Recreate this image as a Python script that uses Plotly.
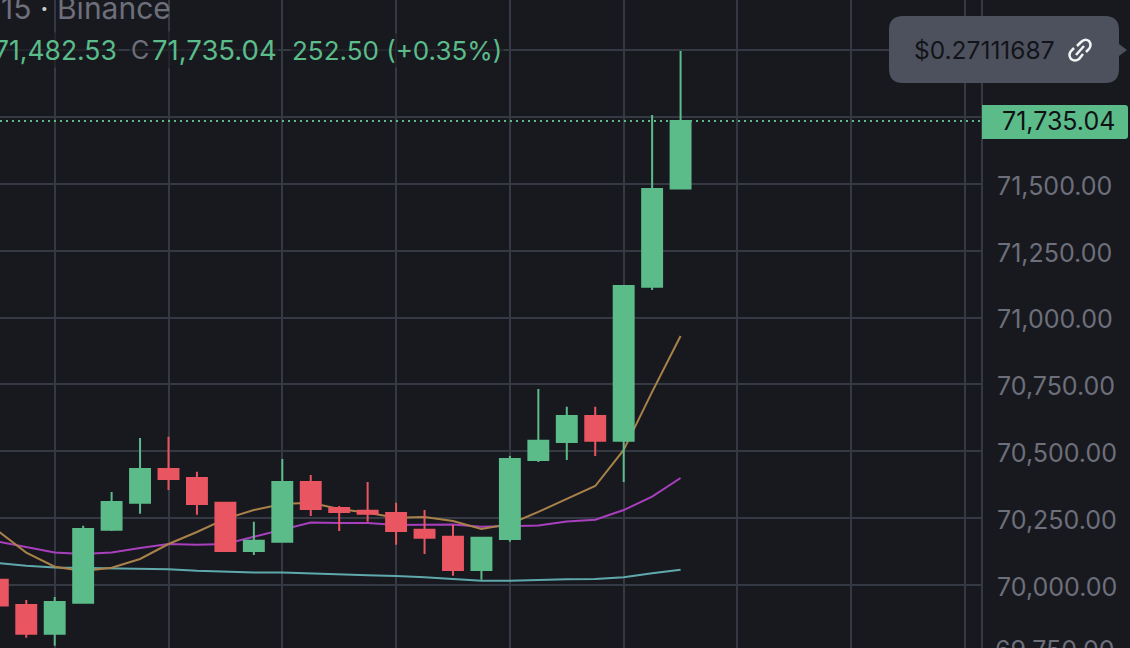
import plotly.graph_objects as go

candle_idx = list(range(25))
opens = [70019, 69925, 69817, 69933, 70206, 70307, 70434, 70400, 70307, 70127, 70161, 70385, 70288,
         70277, 70269, 70206, 70180, 70056, 70172, 70467, 70535, 70632, 70539, 71115, 71482.53]
highs = [70026, 69944, 69955, 70221, 70348, 70550, 70554, 70423, 70307, 70236, 70471, 70411, 70295,
         70385, 70307, 70280, 70224, 70180, 70482, 70733, 70666, 70666, 71118, 71758, 71997]
lows = [69921, 69802, 69772, 69933, 70202, 70266, 70355, 70262, 70127, 70112, 70161, 70258, 70202,
        70236, 70150, 70116, 70034, 70019, 70161, 70460, 70467, 70482, 70385, 71103, 71482]
closes = [69923, 69817, 69936, 70209, 70310, 70434, 70396, 70303, 70127, 70165, 70385, 70284, 70273,
          70266, 70202, 70176, 70056, 70176, 70471, 70539, 70632, 70539, 71118, 71481, 71735.04]

ma_orange = [70202, 70121, 70068, 70052, 70064, 70097, 70153, 70198, 70247, 70280, 70303, 70307, 70284,
             70270, 70251, 70254, 70239, 70209, 70228, 70273, 70322, 70370, 70505, 70722, 70931]
ma_purple = [70162, 70142, 70121, 70116, 70121, 70138, 70153, 70150, 70153, 70180, 70206, 70233, 70232,
             70232, 70224, 70224, 70226, 70218, 70221, 70222, 70237, 70244, 70280, 70330, 70400]
ma_teal = [70082, 70072, 70065, 70064, 70061, 70060, 70059, 70053, 70049, 70046, 70046, 70042, 70039,
           70036, 70033, 70029, 70022, 70016, 70016, 70019, 70021, 70022, 70029, 70044, 70057]

price_ticks = [70000, 70250, 70500, 70750, 71000, 71250, 71500, 71750, 72000]
price_labels = [f"{p:,.2f}" for p in price_ticks]
time_ticks = [2, 6, 10, 14, 18, 22, 26, 30, 34]

BG = "#18191f"
GRID = "#353943"
GREEN = "#5bbc8a"
RED = "#e95560"
GRAY = "#6d6f7a"
FONT = "Inter"
W, H = 1130, 648
x_range = [0.077, 34.56]
y_range = [69764, 72188]


def px(x):
    return x / W


def py(y):
    return 1 - y / H


def path(points):
    # points given as picture pixels, turned into paper coords
    out = []
    for cmd, *vals in points:
        nums = []
        for i in range(0, len(vals), 2):
            nums.append(f"{px(vals[i]):.5f},{py(vals[i + 1]):.5f}")
        out.append(cmd + " ".join(nums))
    return " ".join(out)


fig = go.Figure()
for vals, col in [(ma_teal, "#5fa9ac"), (ma_purple, "#a83fbd"), (ma_orange, "#a9824a")]:
    fig.add_trace(go.Scatter(x=candle_idx, y=vals, mode="lines", line=dict(color=col, width=2),
                             showlegend=False))

# second axis pair so candles sit on top of the averages
fig.add_trace(go.Candlestick(x=candle_idx, open=opens, high=highs, low=lows, close=closes,
                             xaxis="x2", yaxis="y2", whiskerwidth=0, showlegend=False,
                             increasing=dict(line=dict(color=GREEN, width=2), fillcolor=GREEN),
                             decreasing=dict(line=dict(color=RED, width=2), fillcolor=RED)))

fig.update_layout(
    width=W, height=H, margin=dict(l=0, r=0, t=0, b=0),
    paper_bgcolor=BG, plot_bgcolor=BG, showlegend=False, boxgap=0.3, boxgroupgap=0,
    font=dict(family=FONT, color=GRAY, size=22),
    xaxis=dict(domain=[0, 981 / W], range=x_range, tickvals=time_ticks, showticklabels=False,
               showgrid=True, gridcolor=GRID, gridwidth=2, zeroline=False, ticks=""),
    yaxis=dict(side="right", range=y_range, tickvals=price_ticks, ticktext=price_labels,
               showgrid=True, gridcolor=GRID, gridwidth=2, zeroline=False,
               showline=True, linecolor=GRID, linewidth=2,
               ticks="outside", ticklen=9, tickcolor="rgba(0,0,0,0)", ticklabelshift=2,
               tickfont=dict(family=FONT, color=GRAY, size=25)),
    xaxis2=dict(domain=[0, 981 / W], range=x_range, overlaying="x", anchor="y2", visible=False,
                rangeslider=dict(visible=False)),
    yaxis2=dict(range=y_range, overlaying="y", anchor="x2", visible=False),
)

# 69,750 sits just past the crop so the axis would drop it
fig.add_annotation(xref="paper", yref="paper", x=px(1117), y=py(650), xanchor="right", yanchor="middle",
                   text="69,750.00", showarrow=False, font=dict(family=FONT, color=GRAY, size=25))

# last price line
fig.add_shape(type="line", xref="paper", yref="y", x0=0, x1=px(981), y0=closes[-1], y1=closes[-1],
              line=dict(color=GREEN, width=2, dash="2px,4px"), layer="above")

# price tag
fig.add_shape(type="path", xref="paper", yref="paper", fillcolor=GREEN, line=dict(width=0), layer="above",
              path=path([("M", 982, 105), ("L", 1125, 105), ("Q", 1128, 105, 1128, 108), ("L", 1128, 136),
                         ("Q", 1128, 139, 1125, 139), ("L", 982, 139), ("Z",)]))
fig.add_annotation(xref="paper", yref="paper", x=px(1117), y=py(121), xanchor="right", yanchor="middle",
                   text=f"{closes[-1]:,.2f}", showarrow=False,
                   font=dict(family=FONT, color="#0f1114", size=25))

# link bubble
fig.add_shape(type="path", xref="paper", yref="paper", fillcolor="#4d515d", line=dict(width=0), layer="above",
              path=path([("M", 903, 16), ("L", 1105, 16), ("Q", 1119, 16, 1119, 30), ("L", 1119, 44),
                         ("L", 1127, 50), ("L", 1119, 56), ("L", 1119, 69), ("Q", 1119, 83, 1105, 83),
                         ("L", 903, 83), ("Q", 889, 83, 889, 69), ("L", 889, 30), ("Q", 889, 16, 903, 16),
                         ("Z",)]))
fig.add_annotation(xref="paper", yref="paper", x=px(912), y=py(50), xanchor="left", yanchor="middle",
                   text="$0.27111687", showarrow=False, font=dict(family=FONT, color="#12141a", size=24.5))
for pts in [
    [("M", 1077, 46), ("L", 1081, 42), ("Q", 1085, 38, 1089, 41), ("Q", 1092, 45, 1089, 49), ("L", 1086, 52)],
    [("M", 1083, 54), ("L", 1079, 59), ("Q", 1075, 62, 1071, 59), ("Q", 1068, 55, 1071, 51), ("L", 1074, 48)],
    [("M", 1076, 55), ("L", 1084, 46)],
]:
    fig.add_shape(type="path", xref="paper", yref="paper", path=path(pts), layer="above",
                  line=dict(color="#f2f3f5", width=2.5))

# header text, cut off by the left edge like a cropped screenshot
fig.add_annotation(xref="paper", yref="paper", x=px(173), y=py(8), xanchor="right", yanchor="middle",
                   text="15 <span style='color:#c9cad0'>·</span> Binance", showarrow=False,
                   font=dict(family=FONT, color=GRAY, size=30))
legend_bg = "rgba(24,25,31,0.6)"
fig.add_annotation(xref="paper", yref="paper", x=px(119), y=py(50), xanchor="right", yanchor="middle",
                   text=f"{opens[-1]:,.2f}", showarrow=False, bgcolor=legend_bg,
                   font=dict(family=FONT, color=GREEN, size=26.5))
fig.add_annotation(xref="paper", yref="paper", x=px(129), y=py(50), xanchor="left", yanchor="middle",
                   text="C", showarrow=False, bgcolor=legend_bg, font=dict(family=FONT, color=GRAY, size=25))
fig.add_annotation(xref="paper", yref="paper", x=px(150), y=py(50), xanchor="left", yanchor="middle",
                   text=f"{closes[-1]:,.2f}", showarrow=False, bgcolor=legend_bg,
                   font=dict(family=FONT, color=GREEN, size=27.5))
fig.add_annotation(xref="paper", yref="paper", x=px(290), y=py(50), xanchor="left", yanchor="middle",
                   text="252.50 (+0.35%)", showarrow=False, bgcolor=legend_bg,
                   font=dict(family=FONT, color=GREEN, size=26))

fig.write_html("out.html", config=dict(displayModeBar=False), post_script="document.body.style.margin='0';")
